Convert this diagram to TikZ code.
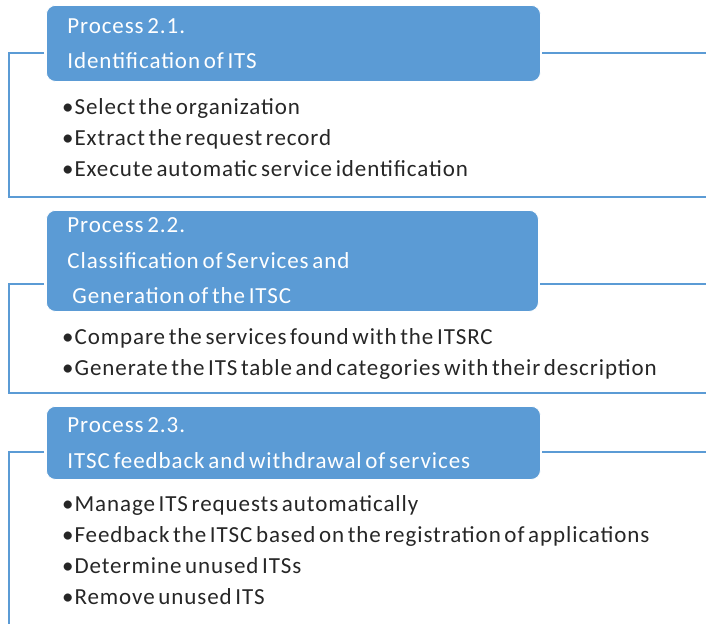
\documentclass[tikz,border=0pt]{standalone}
\usepackage{fontspec}
\setmainfont{Carlito}[LetterSpace=4, WordSpace=0.6]
\usetikzlibrary{positioning,calc}
\definecolor{headblue}{RGB}{91,155,213}
\definecolor{itemgray}{RGB}{38,38,38}
\tikzset{
    headbox/.style={draw=white, line width=0.8pt, fill=headblue, rounded corners=9pt, text=white, align=flush left, text width=452pt, inner xsep=21pt, inner ysep=0pt, anchor=north west, font=\fontsize{23}{35.5}\selectfont},
    itemlist/.style={align=left, text=itemgray, inner sep=0pt, anchor=north west, font=\fontsize{23}{31}\selectfont},
    frameline/.style={draw=headblue, line width=1.6pt}
}
\begin{document}
\begin{tikzpicture}[x=1pt, y=-1pt]
    \useasboundingbox (0,0) rectangle (706,624);
    % corners of the three frames
    \coordinate (corner1) at (9,197);
    \coordinate (end1) at (706,197);
    \coordinate (right1) at (706,53);
    \coordinate (corner2) at (9,393);
    \coordinate (end2) at (706,393);
    \coordinate (right2) at (706,284);
    \coordinate (corner3) at (9,624);
    \coordinate (right3) at (706,452);

    \draw[frameline] (right1) -- (542,53);
    \draw[frameline] (44,53) -| (corner1) -- (end1);
    \draw[frameline] (right2) -- (540,284);
    \draw[frameline] (44,284) -| (corner2) -- (end2);
    \draw[frameline] (right3) -- (542,452);
    \draw[frameline] (44,452) -| (corner3);

    \node[headbox, minimum height=76pt] (head1) at (46,5) {Process 2.1.\\Identification of ITS};
    \node[itemlist] (list1) at (62,98) {•Select the organization\\•Extract the request record\\•Execute automatic service identification};

    \node[headbox, minimum height=101pt, text width=450pt] (head2) at (46,210) {Process 2.2.\\Classification of Services and\\\hspace{5pt}Generation of the ITSC};
    \node[itemlist] (list2) at (62,328) {•Compare the services found with the ITSRC\\•Generate the ITS table and categories with their description};

    \node[headbox, minimum height=73pt] (head3) at (46,406) {Process 2.3.\\ITSC feedback and withdrawal of services};
    \node[itemlist] (list3) at (62,495) {•Manage ITS requests automatically\\•Feedback the ITSC based on the registration of applications\\•Determine unused ITSs\\•Remove unused ITS};
\end{tikzpicture}
\end{document}
